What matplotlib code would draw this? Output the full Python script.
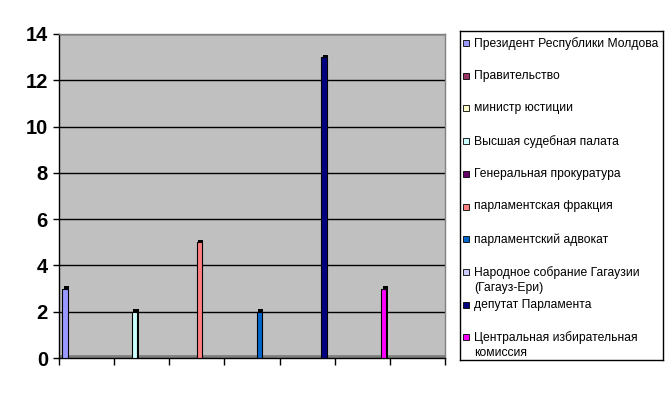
import matplotlib
matplotlib.use('Agg')
import matplotlib.pyplot as plt
from matplotlib.patches import Rectangle

plt.rcParams['font.family'] = ['Liberation Sans', 'DejaVu Sans']

# data
categories = ['', '', '', '', '', '', '']
series_names = [
    'Президент Республики Молдова',
    'Правительство',
    'министр юстиции',
    'Высшая судебная палата',
    'Генеральная прокуратура',
    'парламентская фракция',
    'парламентский адвокат',
    'Народное собрание Гагаузии\n(Гагауз-Ери)',
    'депутат Парламента',
    'Центральная избирательная\nкомиссия',
]
series_colors = ['#9999FF', '#993366', '#FFFFCC', '#CCFFFF', '#660066',
                 '#FF8080', '#0066CC', '#CCCCFF', '#000080', '#FF00FF']
values = [
    [3, 0, 0, 0, 0, 0, 0],
    [0, 0, 0, 0, 0, 0, 0],
    [0, 0, 0, 0, 0, 0, 0],
    [0, 2, 0, 0, 0, 0, 0],
    [0, 0, 0, 0, 0, 0, 0],
    [0, 0, 5, 0, 0, 0, 0],
    [0, 0, 0, 2, 0, 0, 0],
    [0, 0, 0, 0, 0, 0, 0],
    [0, 0, 0, 0, 13, 0, 0],
    [0, 0, 0, 0, 0, 3, 0],
]
y_ticks = [0, 2, 4, 6, 8, 10, 12, 14]

W, H = 672, 394
fig = plt.figure(figsize=(W / 100, H / 100), dpi=100)
fig.patch.set_facecolor('white')

# plot area in pixels
pl, pr, pt, pb = 59, 445, 34, 358
ax = fig.add_axes([pl / W, (H - pb) / H, (pr - pl) / W, (pb - pt) / H])
ax.set_facecolor('#C0C0C0')

n_series = len(series_names)
gap = 0.065
step = (1 - 2 * gap) / n_series
bw = 0.095
for i, (vals, col) in enumerate(zip(values, series_colors)):
    xs = [c + gap + step * (i + 0.5) for c in range(len(categories))]
    # dark 3d side / top
    ax.bar([x + 0.025 for x in xs], [v + 0.1 if v else 0 for v in vals],
           width=bw, color='black', linewidth=0, zorder=2.5)
    ax.bar(xs, vals, width=bw, color=col, edgecolor='black', linewidth=0.8, zorder=3)

ax.set_xlim(0, len(categories))
ax.set_ylim(0, 14)
ax.set_yticks(y_ticks)
ax.set_yticklabels([str(v) for v in y_ticks], fontsize=14.5, fontweight='bold')
ax.set_xticks(range(len(categories) + 1))
ax.set_xticklabels([''] * (len(categories) + 1))
ax.yaxis.grid(True, color='black', linewidth=1, zorder=1)
ax.tick_params(axis='y', direction='out', length=4, width=1, pad=4)
ax.tick_params(axis='x', direction='out', length=5, width=1)
for s in ['top', 'right']:
    ax.spines[s].set_color('#808080')
    ax.spines[s].set_linewidth(1)
for s in ['left', 'bottom']:
    ax.spines[s].set_color('black')
    ax.spines[s].set_linewidth(1)
# floor strip
ax.axhline(0.08, color='#808080', linewidth=2, zorder=2)

# legend box
lx0, lx1, ly0, ly1 = 460, 663, 31, 360
lax = fig.add_axes([lx0 / W, (H - ly1) / H, (lx1 - lx0) / W, (ly1 - ly0) / H])
lax.set_xlim(lx0, lx1)
lax.set_ylim(ly1, ly0)
lax.set_xticks([])
lax.set_yticks([])
for s in lax.spines.values():
    s.set_color('black')
    s.set_linewidth(1)

entry_y = 43
entry_step = 32.7
for name, col in zip(series_names, series_colors):
    lax.add_patch(Rectangle((463, entry_y - 3), 6, 6, facecolor=col,
                            edgecolor='black', linewidth=0.6))
    lax.text(474, entry_y - 6, name, fontsize=8.7, va='top', ha='left',
             linespacing=1.35)
    entry_y += entry_step

fig.savefig('out.png', dpi=100)
